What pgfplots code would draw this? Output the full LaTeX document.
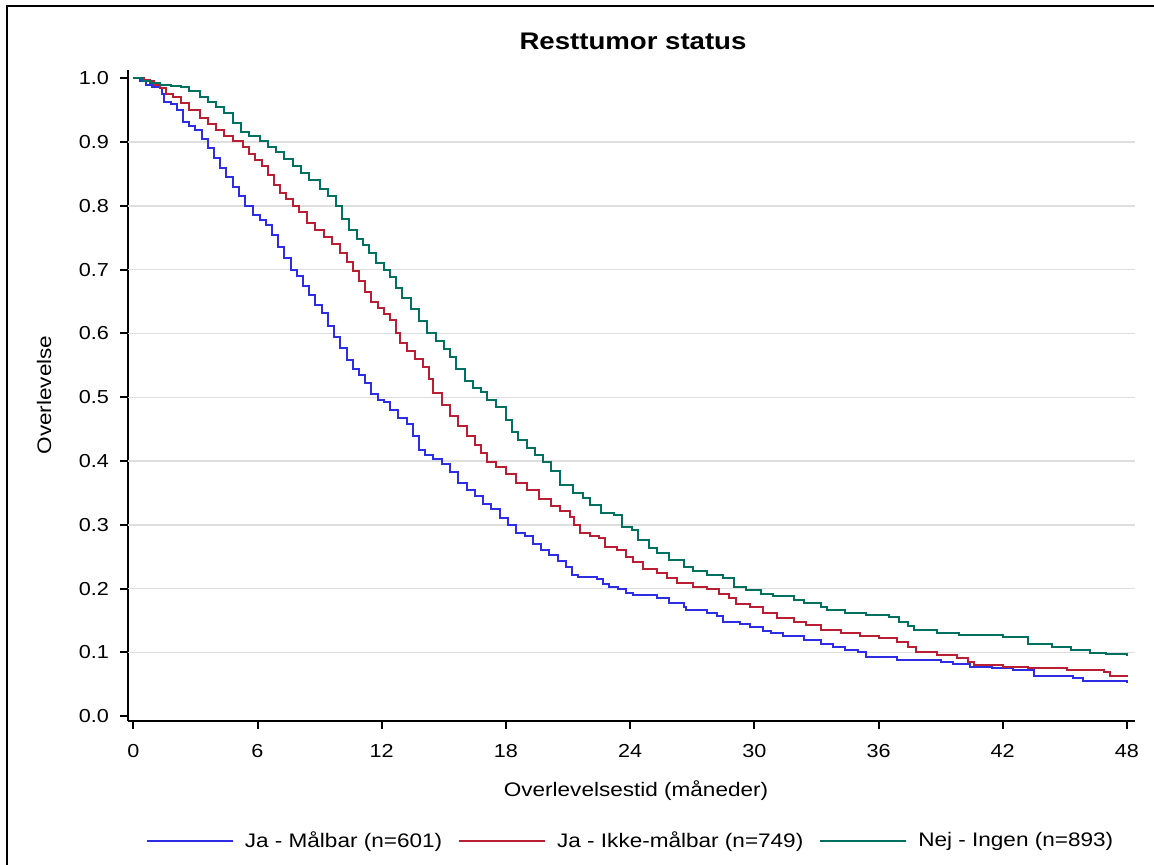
\documentclass[border=0pt]{standalone}
\usepackage{fontspec}
\setmainfont{Liberation Sans}[FakeStretch=1.15]
\usepackage{pgfplots}
\usepackage{pgfplotstable}
\pgfplotsset{compat=1.18}
\definecolor{kmblue}{RGB}{45,45,228}
\definecolor{kmred}{RGB}{185,30,50}
\definecolor{kmgreen}{RGB}{0,112,96}
\definecolor{gridgray}{RGB}{222,222,222}

\pgfplotstableread{
m v
0 1.000
0.3 0.995
0.6 0.990
0.9 0.986
1.3 0.984
1.4 0.975
1.5 0.963
1.8 0.960
2.1 0.950
2.4 0.932
2.7 0.925
3.0 0.919
3.3 0.905
3.6 0.890
3.9 0.875
4.2 0.860
4.5 0.845
4.8 0.830
5.1 0.815
5.4 0.800
5.8 0.785
6.1 0.778
6.4 0.770
6.7 0.755
7.0 0.735
7.3 0.718
7.6 0.700
7.9 0.690
8.2 0.675
8.5 0.660
8.8 0.645
9.1 0.632
9.4 0.612
9.7 0.595
10.0 0.578
10.3 0.558
10.6 0.545
10.9 0.535
11.2 0.522
11.5 0.505
11.8 0.496
12.1 0.492
12.4 0.480
12.8 0.468
13.2 0.458
13.5 0.440
13.8 0.418
14.1 0.410
14.5 0.403
14.9 0.395
15.3 0.383
15.7 0.365
16.1 0.355
16.5 0.345
16.9 0.333
17.3 0.325
17.7 0.310
18.1 0.300
18.5 0.287
18.9 0.282
19.3 0.270
19.7 0.260
20.1 0.253
20.5 0.243
20.9 0.234
21.2 0.221
21.5 0.218
22.4 0.215
22.7 0.208
23.0 0.203
23.4 0.200
23.8 0.193
24.15 0.190
25.3 0.185
25.9 0.177
26.6 0.172
26.7 0.166
27.7 0.162
28.2 0.157
28.5 0.148
29.3 0.145
29.8 0.140
30.4 0.134
30.8 0.130
31.4 0.126
32.4 0.120
33.2 0.114
33.8 0.108
34.4 0.104
35.0 0.101
35.4 0.093
36.9 0.088
39.0 0.085
39.6 0.082
40.4 0.078
41.5 0.075
42.5 0.072
43.5 0.063
45.4 0.060
45.9 0.056
48.0 0.052
}\tblue

\pgfplotstableread{
m v
0 1.000
0.5 0.998
0.8 0.995
1.0 0.990
1.3 0.984
1.6 0.976
1.9 0.970
2.3 0.961
2.7 0.950
3.2 0.937
3.6 0.928
4.0 0.919
4.4 0.910
4.8 0.901
5.3 0.893
5.6 0.882
5.9 0.872
6.2 0.862
6.5 0.848
6.8 0.832
7.1 0.820
7.4 0.810
7.7 0.800
8.0 0.790
8.4 0.773
8.8 0.762
9.2 0.752
9.6 0.740
10.0 0.726
10.3 0.712
10.6 0.698
10.9 0.683
11.2 0.665
11.5 0.650
11.8 0.640
12.1 0.630
12.4 0.621
12.7 0.600
12.9 0.585
13.2 0.572
13.6 0.560
14.0 0.548
14.3 0.528
14.5 0.506
14.9 0.488
15.3 0.470
15.7 0.455
16.1 0.440
16.5 0.425
16.8 0.412
17.1 0.398
17.5 0.390
18.0 0.380
18.5 0.366
19.0 0.355
19.6 0.340
20.2 0.330
20.6 0.321
21.1 0.313
21.3 0.300
21.6 0.287
22.06 0.283
22.5 0.279
22.8 0.266
23.35 0.261
23.8 0.249
24.15 0.242
24.6 0.231
25.3 0.224
25.8 0.216
26.25 0.2085
27.05 0.203
27.7 0.199
28.3 0.192
28.8 0.185
29.1 0.176
29.8 0.171
30.4 0.162
31.1 0.154
31.9 0.148
32.5 0.143
33.2 0.135
34.2 0.130
35.1 0.126
36.0 0.122
36.9 0.117
37.4 0.108
37.8 0.101
38.8 0.096
39.8 0.091
40.3 0.085
40.6 0.080
42.0 0.078
43.2 0.075
45.1 0.072
46.9 0.070
47.2 0.063
48.0 0.061
}\tred

\pgfplotstableread{
m v
0 1.000
0.4 0.996
0.8 0.992
1.3 0.990
1.8 0.988
2.3 0.986
2.7 0.980
3.2 0.971
3.6 0.963
4.0 0.955
4.4 0.945
4.8 0.930
5.2 0.916
5.6 0.910
6.1 0.901
6.5 0.893
6.9 0.885
7.3 0.873
7.7 0.862
8.1 0.851
8.5 0.840
9.0 0.826
9.4 0.815
9.8 0.800
10.1 0.780
10.4 0.762
10.8 0.748
11.1 0.738
11.4 0.726
11.7 0.710
12.1 0.700
12.4 0.688
12.7 0.672
13.0 0.655
13.4 0.638
13.8 0.620
14.2 0.600
14.6 0.588
15.0 0.575
15.3 0.563
15.6 0.545
16.0 0.525
16.4 0.515
16.8 0.508
17.1 0.496
17.5 0.485
18.0 0.464
18.3 0.445
18.6 0.433
19.0 0.420
19.4 0.410
19.8 0.398
20.2 0.385
20.6 0.3625
21.25 0.350
21.7 0.342
22.06 0.331
22.6 0.318
23.2 0.3155
23.6 0.297
24.1 0.292
24.4 0.277
24.9 0.263
25.3 0.2555
25.9 0.245
26.6 0.2345
27.05 0.227
27.7 0.2215
28.5 0.216
29.0 0.203
29.6 0.198
30.3 0.192
30.9 0.189
31.9 0.182
32.4 0.178
33.2 0.172
33.5 0.167
34.4 0.162
35.4 0.159
36.5 0.156
37.0 0.148
37.4 0.142
37.7 0.136
38.8 0.131
39.9 0.127
42.0 0.124
43.2 0.114
44.4 0.109
45.3 0.104
46.2 0.0997
47.0 0.097
48.0 0.0945
}\tgreen

\begin{document}
\begin{tikzpicture}
\useasboundingbox (-64pt,-72pt) rectangle (513pt,360.5pt);
\draw[line width=1pt] (-60.5pt,-100pt) -- (-60.5pt,357.5pt) -- (600pt,357.5pt);
\begin{axis}[
  at={(0pt,0pt)}, anchor=south west,
  width=503.5pt, height=325.5pt, scale only axis,
  xmin=-0.256, xmax=48.39, ymin=-0.0074, ymax=1.013,
  axis lines*=left,
  axis line style={-, line width=1pt, black},
  xtick={0,6,12,18,24,30,36,42,48},
  ytick={0,0.1,0.2,0.3,0.4,0.5,0.6,0.7,0.8,0.9,1.0},
  y tick label style={/pgf/number format/fixed, /pgf/number format/fixed zerofill, /pgf/number format/precision=1},
  /pgf/number format/assume math mode=true,
  tick align=outside, major tick length=4pt,
  tick style={line width=1pt, black},
  tick label style={font=\fontsize{9.4}{11}\selectfont},
  xticklabel style={yshift=-4pt},
  yticklabel style={xshift=-2pt},
  extra y ticks={0.1,0.2,0.3,0.4,0.5,0.6,0.7,0.8,0.9},
  extra y tick labels={},
  extra y tick style={grid=major, major tick length=0pt},
  major grid style={draw=gridgray, line width=0.75pt},
  legend columns=3,
  legend style={draw=none, fill=none, at={(0.5,-0.1843)}, anchor=center,
    font=\fontsize{9.8}{12}\selectfont,
    /tikz/every odd column/.append style={column sep=3.5pt},
    /tikz/every even column/.append style={column sep=6pt}},
  legend image code/.code={\draw[#1] (0pt,0pt) -- (43pt,0pt);},
]
\addplot[const plot, kmblue, line width=1pt] table[x=m,y=v] {\tblue};
\addlegendentry{Ja - Målbar (n=601)}
\addplot[const plot, kmred, line width=1pt] table[x=m,y=v] {\tred};
\addlegendentry{Ja - Ikke-målbar (n=749)}
\addplot[const plot, kmgreen, line width=1pt] table[x=m,y=v] {\tgreen};
\addlegendentry{Nej - Ingen (n=893)}
\end{axis}
\node[font=\bfseries\fontsize{12}{14}\selectfont] at (252.5pt,340pt) {Resttumor status};
\node[font=\fontsize{9.8}{12}\selectfont, anchor=base] at (254pt,-38pt) {Overlevelsestid (måneder)};
\node[font=\fontsize{9.8}{12}\selectfont, rotate=90, anchor=center] at (-42pt,163pt) {Overlevelse};
\end{tikzpicture}
\end{document}
